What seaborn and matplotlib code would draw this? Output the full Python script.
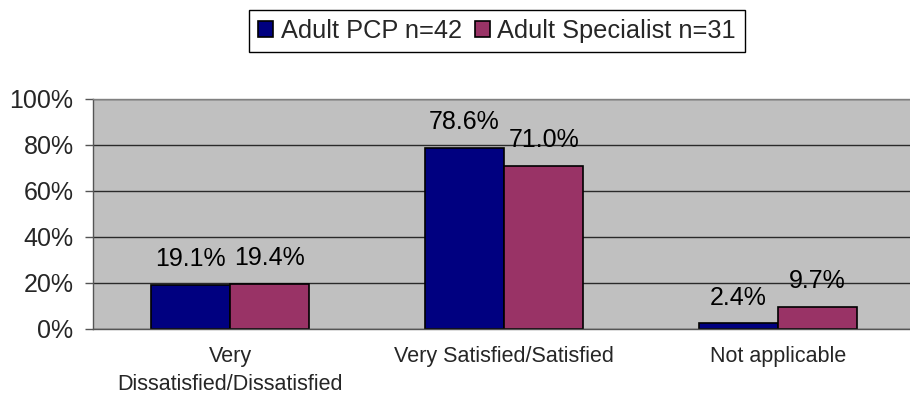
import matplotlib
matplotlib.use("Agg")
import matplotlib.pyplot as plt
import seaborn as sns
import pandas as pd

categories = ["Very\nDissatisfied/Dissatisfied", "Very Satisfied/Satisfied", "Not applicable"]
series_names = ["Adult PCP n=42", "Adult Specialist n=31"]
pcp_values = [19.1, 78.6, 2.4]
specialist_values = [19.4, 71.0, 9.7]
y_ticks = [0, 20, 40, 60, 80, 100]
y_tick_labels = ["0%", "20%", "40%", "60%", "80%", "100%"]

df = pd.DataFrame({
    "category": categories * 2,
    "series": [series_names[0]] * 3 + [series_names[1]] * 3,
    "value": pcp_values + specialist_values,
})

sns.set_theme(style="white")
plt.rcParams["font.family"] = ["Liberation Sans", "DejaVu Sans"]

fig = plt.figure(figsize=(9.1, 4.0), dpi=100)
ax = fig.add_axes([93 / 910, 71 / 400, 822 / 910, 230 / 400])
ax.set_facecolor("#C0C0C0")

palette = {series_names[0]: "#000080", series_names[1]: "#993366"}
sns.barplot(data=df, x="category", y="value", hue="series", order=categories,
            hue_order=series_names, palette=palette, width=0.58, gap=0,
            edgecolor="black", linewidth=1.2, saturation=1, ax=ax, legend=True)

for cont in ax.containers:
    ax.bar_label(cont, labels=[f"{v:.1f}%" for v in cont.datavalues],
                 padding=10, fontsize=18, color="black")

ax.set_ylim(0, 100)
ax.set_xlim(-0.5, 2.5)
ax.set_yticks(y_ticks)
ax.set_yticklabels(y_tick_labels, fontsize=18)
ax.yaxis.grid(True, color="#2a2a2a", linewidth=1)
ax.set_axisbelow(True)
ax.set_xlabel("")
ax.set_ylabel("")

ax.set_xticks([0, 1, 2])
ax.set_xticklabels(categories, fontsize=15.5, linespacing=1.45)
ax.set_xticks([-0.5, 0.5, 1.5, 2.5], minor=True)
ax.tick_params(axis="x", which="major", length=0, pad=12)
ax.tick_params(axis="x", which="minor", length=6, width=1, color="#555555", direction="out")
ax.tick_params(axis="y", length=6, width=1, color="#555555", direction="out", pad=8, left=True)

for side in ["left", "bottom"]:
    ax.spines[side].set_color("#555555")
    ax.spines[side].set_linewidth(1)
ax.spines["top"].set_color("#808080")
ax.spines["top"].set_linewidth(1)
ax.spines["right"].set_visible(False)

handles, labels = ax.get_legend_handles_labels()
ax.legend(handles, labels, loc="center", bbox_to_anchor=(497 / 910, 1 - 31 / 400),
          bbox_transform=fig.transFigure, ncol=2, frameon=True, fancybox=False,
          edgecolor="black", framealpha=1, handlelength=0.6, handleheight=0.6,
          columnspacing=0.5, handletextpad=0.3, fontsize=18.3, borderpad=0.35)
leg = ax.get_legend()
leg.get_frame().set_linewidth(1)

fig.savefig("out.png", dpi=100)
